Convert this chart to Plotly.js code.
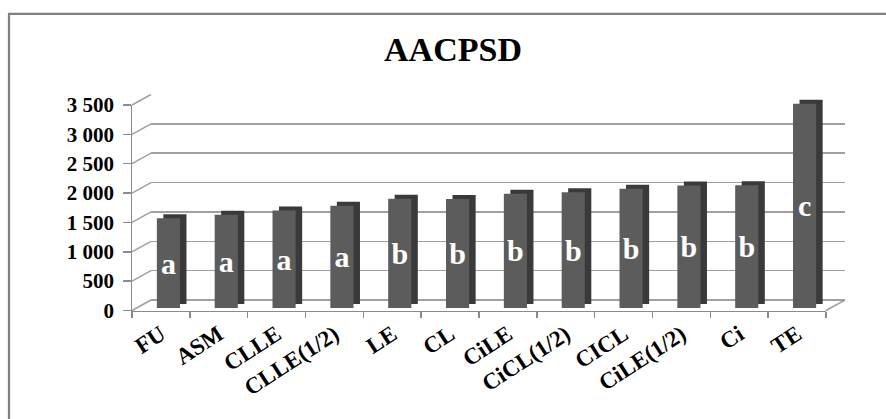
<!DOCTYPE html>
<html>
<head>
<meta charset="utf-8">
<script src="https://cdn.plot.ly/plotly-3.0.1.min.js"></script>
<style>
html,body{margin:0;padding:0;background:#fff;}
#chart{width:886px;height:419px;}
</style>
</head>
<body>
<div id="chart"></div>
<script>
// ---- data ----
var categories = ["FU","ASM","CLLE","CLLE(1/2)","LE","CL","CiLE","CiCL(1/2)","CICL","CiLE(1/2)","Ci","TE"];
var values = [1530, 1590, 1660, 1740, 1860, 1855, 1945, 1970, 2030, 2085, 2090, 3480];
var groupLetters = ["a","a","a","a","b","b","b","b","b","b","b","c"];
var yTickVals = [0, 500, 1000, 1500, 2000, 2500, 3000, 3500];
var yTickText = ["0", "500", "1 000", "1 500", "2 000", "2 500", "3 000", "3 500"];
var chartTitle = "AACPSD";

// ---- geometry (pixels) ----
var W = 886, H = 419;
function px(x){ return x / W; }
function py(y){ return 1 - y / H; }
var front = {x0:132, x1:826, yb:310.5, yt:105};
var back  = {dx:19, dy:-10.5};
var face  = {dx:7.5, dy:-2.5};
var side  = {dx:6.5, dy:-4};
function dom(o, dx, dy){
  return {x:[px(o.x0+dx), px(o.x1+dx)], y:[py(o.yb+dy), py(o.yt+dy)]};
}
var dBack = dom(front, back.dx, back.dy);
var dFace = dom(front, face.dx, face.dy);
var dSide = dom(front, face.dx+side.dx, face.dy+side.dy);
var dFront = dom(front, 0, 0);
var yMax = 3500;
var serif = "Liberation Serif, Times New Roman, serif";
var lineCol = "#8c8c8c";

function hiddenX(d, anchor){
  return {domain:d, anchor:anchor, type:"category", range:[-0.5, categories.length-0.5],
    showgrid:false, zeroline:false, showline:false, showticklabels:false, ticks:"", fixedrange:true};
}
function hiddenY(d, anchor){
  return {domain:d, anchor:anchor, range:[0, yMax], showgrid:false, zeroline:false,
    showline:false, showticklabels:false, ticks:"", fixedrange:true};
}

var traces = [
  // back wall host
  {type:"scatter", mode:"none", x:categories, y:values, xaxis:"x", yaxis:"y", hoverinfo:"skip", showlegend:false},
  // dark side/top faces
  {type:"bar", x:categories, y:values, xaxis:"x2", yaxis:"y2",
   marker:{color:"#3a3a3a", line:{width:0}}, hoverinfo:"skip", showlegend:false},
  // front faces with letters
  {type:"bar", x:categories, y:values, xaxis:"x3", yaxis:"y3", text:groupLetters,
   textposition:"inside", insidetextanchor:"middle", constraintext:"none",
   textfont:{family:serif, size:30, color:"#ffffff", weight:"bold"},
   marker:{color:"#5c5c5c", line:{width:0}}, hoverinfo:"x+y", showlegend:false},
  // front axes host
  {type:"scatter", mode:"none", x:categories, y:values, xaxis:"x4", yaxis:"y4", hoverinfo:"skip", showlegend:false},
  // y tick label host
  {type:"scatter", mode:"none", x:categories, y:values, xaxis:"x4", yaxis:"y5", hoverinfo:"skip", showlegend:false}
];

var layout = {
  width:W, height:H,
  margin:{l:0, r:0, t:0, b:0},
  paper_bgcolor:"#ffffff",
  plot_bgcolor:"rgba(0,0,0,0)",
  bargap:0.6,
  showlegend:false,
  title:{text:chartTitle, x:px(453), xanchor:"center", y:py(49), yanchor:"middle",
         font:{family:serif, size:34, color:"#000000", weight:"bold"}},
  xaxis:hiddenX(dBack.x, "y"),
  yaxis:Object.assign(hiddenY(dBack.y, "x"), {showgrid:true, gridcolor:"#a0a0a0", gridwidth:1.5,
         tickmode:"array", tickvals:yTickVals, zeroline:true, zerolinecolor:"#a0a0a0", zerolinewidth:1.5}),
  xaxis2:hiddenX(dSide.x, "y2"),
  yaxis2:hiddenY(dSide.y, "x2"),
  xaxis3:hiddenX(dFace.x, "y3"),
  yaxis3:hiddenY(dFace.y, "x3"),
  xaxis4:{domain:dFront.x, anchor:"y4", type:"category", range:[-0.5, categories.length-0.5],
    showgrid:false, zeroline:false, showline:true, linecolor:lineCol, linewidth:1.5,
    ticks:"outside", tickson:"boundaries", ticklen:6, tickcolor:lineCol, tickwidth:1.5,
    tickangle:-33, tickfont:{family:serif, size:23, color:"#000000", weight:"bold"}, fixedrange:true},
  yaxis4:{domain:dFront.y, anchor:"x4", range:[0, yMax], showgrid:false, zeroline:false,
    showline:true, linecolor:lineCol, linewidth:1.5, ticks:"outside", ticklen:8, tickcolor:lineCol,
    tickwidth:1.5, tickmode:"array", tickvals:yTickVals, showticklabels:false, fixedrange:true},
  yaxis5:{domain:dFront.y, anchor:"free", position:px(114), side:"left", range:[0, yMax],
    showgrid:false, zeroline:false, showline:false, ticks:"", tickmode:"array",
    tickvals:yTickVals, ticktext:yTickText,
    tickfont:{family:serif, size:21, color:"#000000", weight:"bold"}, fixedrange:true},
  shapes:[]
};

// diagonal connectors from the front axis to the back wall (side wall lines)
var fScale = (front.yb - front.yt) / yMax;
yTickVals.forEach(function(v){
  var yf = front.yb - v * fScale;
  layout.shapes.push({type:"line", xref:"paper", yref:"paper",
    x0:px(front.x0), y0:py(yf), x1:px(front.x0+back.dx), y1:py(yf+back.dy),
    line:{color:"#a0a0a0", width:1.5}, layer:"below"});
});
// floor right edge
layout.shapes.push({type:"line", xref:"paper", yref:"paper",
  x0:px(front.x1), y0:py(front.yb), x1:px(front.x1+back.dx), y1:py(front.yb+back.dy),
  line:{color:"#a0a0a0", width:1.5}, layer:"below"});
// outer chart frame (top and left edges)
layout.shapes.push({type:"line", xref:"paper", yref:"paper", x0:px(8), y0:py(13.8), x1:1, y1:py(13.8),
  line:{color:"#808080", width:2.2}});
layout.shapes.push({type:"line", xref:"paper", yref:"paper", x0:px(9), y0:py(13.8), x1:px(9), y1:0,
  line:{color:"#808080", width:2.2}});

Plotly.newPlot("chart", traces, layout, {displayModeBar:false, staticPlot:true});
</script>
</body>
</html>
